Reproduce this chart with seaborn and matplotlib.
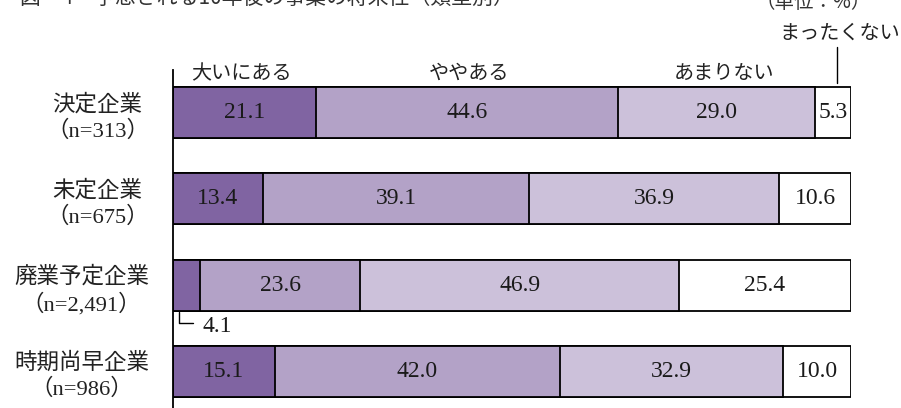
import matplotlib
matplotlib.use("Agg")
import matplotlib.pyplot as plt
import seaborn as sns
import pandas as pd

# datos
categories = ["決定企業", "未定企業", "廃業予定企業", "時期尚早企業"]
sample_sizes = ["313", "675", "2,491", "986"]
responses = ["大いにある", "ややある", "あまりない", "まったくない"]
very_much = [21.1, 13.4, 4.1, 15.1]
somewhat = [44.6, 39.1, 23.6, 42.0]
not_much = [29.0, 36.9, 46.9, 32.9]
not_at_all = [5.3, 10.6, 25.4, 10.0]

colors = ["#8064A2", "#B3A2C7", "#CCC1DA", "#FFFFFF"]

sns.set_theme(style="white")
plt.rcParams["font.family"] = ["Noto Sans CJK JP", "DejaVu Sans"]
serif = ["Liberation Serif", "Noto Sans CJK JP"]

df = pd.DataFrame({
    "企業": categories,
    responses[0]: very_much,
    responses[1]: somewhat,
    responses[2]: not_much,
    responses[3]: not_at_all,
})
cum = df[responses].cumsum(axis=1)

fig = plt.figure(figsize=(9.01, 4.08), dpi=100)
ax = fig.add_axes([0.1915, 0.0, 0.7531, 0.8284])

# barras apiladas: se pinta primero el acumulado mas grande y luego encima los menores
for i in range(len(responses) - 1, -1, -1):
    sub = pd.DataFrame({"企業": categories, "cum": cum[responses[i]]})
    sns.barplot(data=sub, x="cum", y="企業", orient="h", color=colors[i],
                saturation=1, edgecolor="black", linewidth=1.3, width=0.59, ax=ax)

# etiquetas con los valores
for r, cat in enumerate(categories):
    left = 0
    for i, resp in enumerate(responses):
        v = df.loc[r, resp]
        if cat == "廃業予定企業" and i == 0:
            ax.plot([0.96, 0.96, 3.0], [2.31, 2.435, 2.435], color="black", lw=1)
            ax.text(4.4, 2.48, f"{v:.1f}", ha="left", va="center",
                    fontsize=17, family=serif, color="#1a1a1a")
        else:
            ax.text(left + v / 2, r, f"{v:.1f}", ha="center", va="center",
                    fontsize=17, family=serif, color="#1a1a1a")
        left += v

# encabezados de cada respuesta
ax.text(10.2, -0.45, responses[0], ha="center", va="center", fontsize=14.5, color="#222222")
ax.text(43.7, -0.45, responses[1], ha="center", va="center", fontsize=14.5, color="#222222")
ax.text(81.3, -0.45, responses[2], ha="center", va="center", fontsize=14.5, color="#222222")
ax.text(98.4, -0.915, responses[3], ha="center", va="center", fontsize=14.5,
        color="#222222", clip_on=False)
ax.plot([97.9, 97.9], [-0.755, -0.342], color="black", lw=1, clip_on=False)

ax.set_xlim(0, 100)
ax.set_ylim(3.423, -0.4925)
ax.set_xlabel("")
ax.set_ylabel("")
ax.set_xticks([])
ax.set_yticks(range(len(categories)))
ax.set_yticklabels([f"{c}\n（n={n}）" for c, n in zip(categories, sample_sizes)],
                   fontsize=16.2, family=serif, color="#222222",
                   multialignment="center", linespacing=1.3)
ax.tick_params(axis="y", length=0, pad=17)
for s in ["top", "right", "bottom"]:
    ax.spines[s].set_visible(False)
ax.spines["left"].set_color("black")
ax.spines["left"].set_linewidth(1.3)

# titulo cortado arriba y unidad (asi viene en la imagen original)
fig.text(20 / 901, 1 + 2 / 408, "図－4　予想される10年後の事業の将来性（類型別）",
         ha="left", va="center", fontsize=15, color="#333333")
fig.text(813 / 901, 1 - 3 / 408, "（単位：%）", ha="center", va="center",
         fontsize=14, color="#333333")

fig.savefig("out.png", dpi=100)
